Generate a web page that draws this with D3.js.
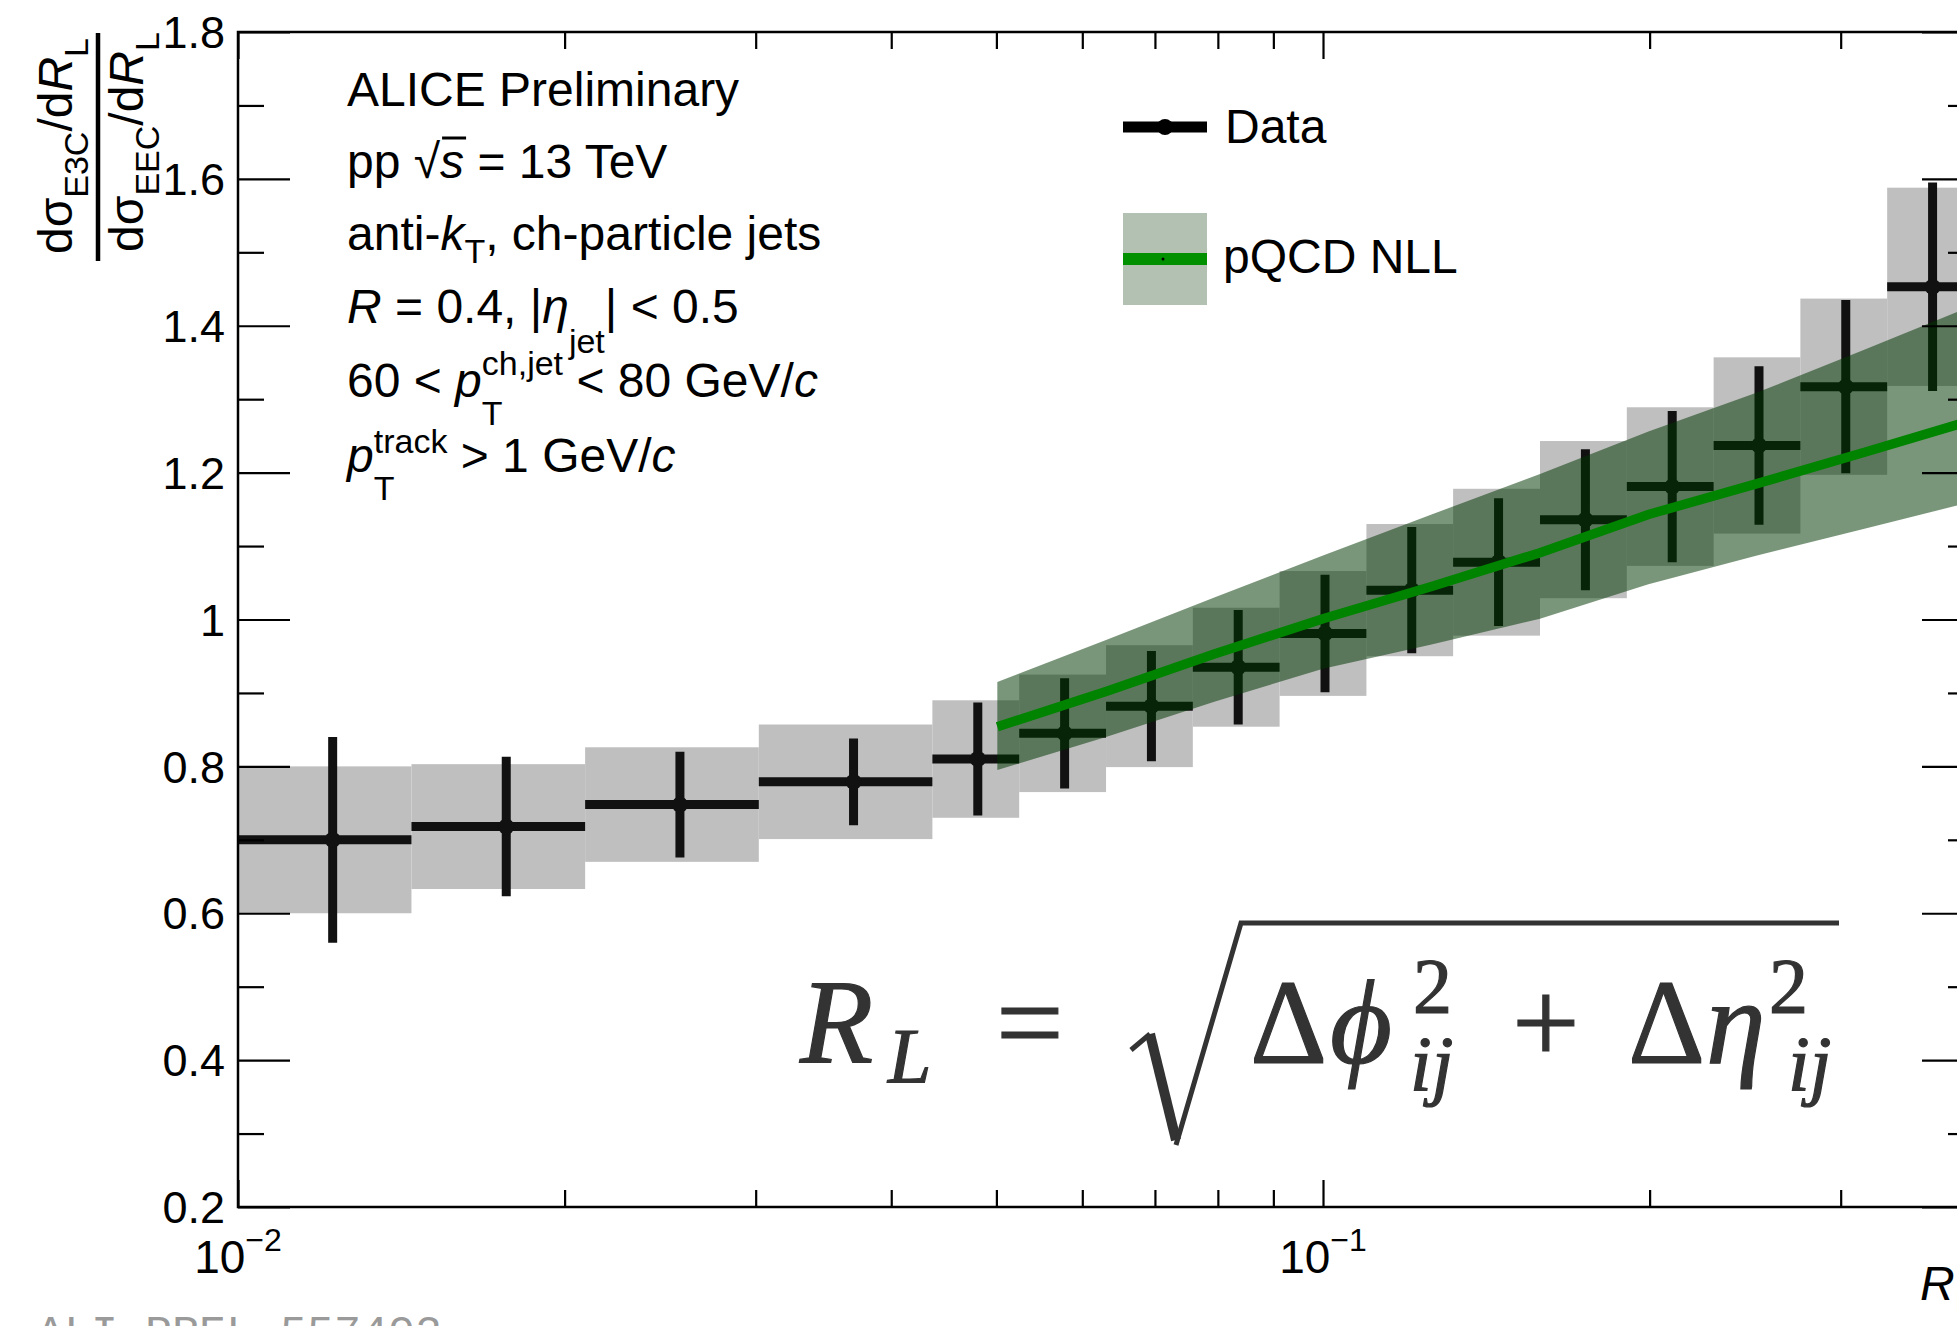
<!DOCTYPE html>
<html>
<head>
<meta charset="utf-8">
<script src="https://cdn.jsdelivr.net/npm/d3@7"></script>
<style>
body { margin: 0; background: #fff; overflow: hidden; }
text { font-family: "Liberation Sans", Arial, sans-serif; white-space: pre; }
</style>
</head>
<body>
<script>
// R_L bin edges (first four bins are double width)
var binEdges = [0.01, 0.01445, 0.02089, 0.0302, 0.04365, 0.05248, 0.0631, 0.07586, 0.0912,
                0.10965, 0.1318, 0.15849, 0.19055, 0.2291, 0.2754, 0.3311, 0.3981];
var ratio   = [0.700, 0.718, 0.748, 0.779, 0.810, 0.845, 0.882, 0.935, 0.981, 1.040, 1.078, 1.136, 1.181, 1.237, 1.317, 1.453];
var statErr = [0.140, 0.095, 0.072, 0.059, 0.077, 0.075, 0.075, 0.078, 0.080, 0.086, 0.087, 0.096, 0.103, 0.108, 0.118, 0.142];
var sysErr  = [0.100, 0.085, 0.078, 0.078, 0.080, 0.080, 0.083, 0.081, 0.085, 0.090, 0.100, 0.107, 0.108, 0.120, 0.120, 0.135];

// pQCD NLL curve and band
var nllX   = [0.0501, 0.0631, 0.0794, 0.1, 0.1259, 0.1585, 0.1995, 0.2512, 0.3162, 0.3981];
var nllMid = [0.854, 0.902, 0.953, 1.001, 1.045, 1.091, 1.143, 1.185, 1.228, 1.272];
var nllUp  = [0.915, 0.972, 1.030, 1.087, 1.143, 1.198, 1.256, 1.309, 1.368, 1.428];
var nllLow = [0.795, 0.840, 0.888, 0.933, 0.966, 1.001, 1.048, 1.087, 1.124, 1.161];

var yMajor = [0.2, 0.4, 0.6, 0.8, 1.0, 1.2, 1.4, 1.6, 1.8];
var yMinor = [0.3, 0.5, 0.7, 0.9, 1.1, 1.3, 1.5, 1.7];
var yLabels = ["0.2", "0.4", "0.6", "0.8", "1", "1.2", "1.4", "1.6", "1.8"];
var xMajor = [0.01, 0.1];
var xMinor = [0.02, 0.03, 0.04, 0.05, 0.06, 0.07, 0.08, 0.09, 0.2, 0.3];
var xExp = ["\u22122", "\u22121"];

var W = 1957, H = 1326;
var L = 238, R = 1974, T = 32, B = 1207;

var svg = d3.select("body").append("svg").attr("width", W).attr("height", H);

var x = d3.scaleLog().domain([0.01, 0.3981]).range([L, R]);
var y = d3.scaleLinear().domain([0.2, 1.8]).range([B, T]);

svg.append("clipPath").attr("id", "plot")
   .append("rect").attr("x", L).attr("y", T).attr("width", R - L).attr("height", B - T);

var plot = svg.append("g").attr("clip-path", "url(#plot)");
var bins = d3.range(ratio.length);
function mid(i) { return (binEdges[i] + binEdges[i + 1]) / 2; }

// systematic boxes
plot.selectAll("rect.sys").data(bins).join("rect")
    .attr("x", function(i) { return x(binEdges[i]); })
    .attr("width", function(i) { return x(binEdges[i + 1]) - x(binEdges[i]); })
    .attr("y", function(i) { return y(ratio[i] + sysErr[i]); })
    .attr("height", function(i) { return y(ratio[i] - sysErr[i]) - y(ratio[i] + sysErr[i]); })
    .attr("fill", "#bfbfbf");

// data crosses
plot.selectAll("line.h").data(bins).join("line")
    .attr("x1", function(i) { return x(binEdges[i]); })
    .attr("x2", function(i) { return x(binEdges[i + 1]); })
    .attr("y1", function(i) { return y(ratio[i]); })
    .attr("y2", function(i) { return y(ratio[i]); })
    .attr("stroke", "#111").attr("stroke-width", 9);
plot.selectAll("line.v").data(bins).join("line")
    .attr("x1", function(i) { return x(mid(i)); })
    .attr("x2", function(i) { return x(mid(i)); })
    .attr("y1", function(i) { return y(ratio[i] + statErr[i]); })
    .attr("y2", function(i) { return y(ratio[i] - statErr[i]); })
    .attr("stroke", "#111").attr("stroke-width", 9);
plot.selectAll("circle").data(bins).join("circle")
    .attr("cx", function(i) { return x(mid(i)); })
    .attr("cy", function(i) { return y(ratio[i]); })
    .attr("r", 8).attr("fill", "#111");

// theory band + line
var tIdx = d3.range(nllX.length);
plot.append("path").datum(tIdx)
    .attr("d", d3.area()
        .x(function(i) { return x(nllX[i]); })
        .y0(function(i) { return y(nllLow[i]); })
        .y1(function(i) { return y(nllUp[i]); }))
    .attr("fill", "rgb(0,54,0)").attr("fill-opacity", 0.52);
plot.append("path").datum(tIdx)
    .attr("d", d3.line()
        .x(function(i) { return x(nllX[i]); })
        .y(function(i) { return y(nllMid[i]); }))
    .attr("fill", "none").attr("stroke", "#008400").attr("stroke-width", 9.5);

// rich text helper: segments laid out one after the other
function rich(parent, x0, y0, segs, center) {
  var g = parent.append("g");
  var cx = 0, prevStart = 0, prevEnd = 0;
  segs.forEach(function(s) {
    var start = s.stack ? prevStart : cx;
    var t = g.append("text").attr("x", start).attr("y", s.dy || 0)
             .attr("font-size", s.fs || 48)
             .attr("font-style", s.it ? "italic" : "normal")
             .attr("fill", "#000").text(s.t);
    var w = t.node().getComputedTextLength();
    if (s.over) {
      g.append("line").attr("x1", start + 2).attr("x2", start + w + 2)
       .attr("y1", (s.dy || 0) - s.over).attr("y2", (s.dy || 0) - s.over)
       .attr("stroke", "#000").attr("stroke-width", 3);
    }
    cx = s.stack ? Math.max(prevEnd, start + w) : start + w;
    prevStart = start; prevEnd = start + w;
  });
  var sx = center ? x0 - cx / 2 : x0;
  g.attr("transform", "translate(" + sx + "," + y0 + ")");
  return g;
}

// info text
var info = svg.append("g");
rich(info, 347, 106, [{t: "ALICE Preliminary"}]);
rich(info, 347, 178, [{t: "pp "}, {t: "\u221A"}, {t: "s", it: true, over: 40}, {t: " = 13 TeV"}]);
rich(info, 347, 250, [{t: "anti-"}, {t: "k", it: true}, {t: "T", fs: 34, dy: 13}, {t: ", ch-particle jets"}]);
rich(info, 347, 323, [{t: "R", it: true}, {t: " = 0.4, |"}, {t: "\u03B7", it: true}, {t: "jet", fs: 34, dy: 30}, {t: "| < 0.5"}]);
rich(info, 347, 397, [{t: "60 < "}, {t: "p", it: true}, {t: "T", fs: 34, dy: 28}, {t: "ch,jet", fs: 34, dy: -22, stack: true}, {t: " < 80 GeV/"}, {t: "c", it: true}]);
rich(info, 347, 472, [{t: "p", it: true}, {t: "T", fs: 34, dy: 28}, {t: "track", fs: 34, dy: -19, stack: true}, {t: " > 1 GeV/"}, {t: "c", it: true}]);

// legend
var leg = svg.append("g");
leg.append("line").attr("x1", 1123).attr("x2", 1207).attr("y1", 127).attr("y2", 127)
   .attr("stroke", "#000").attr("stroke-width", 11);
leg.append("circle").attr("cx", 1165).attr("cy", 127).attr("r", 8).attr("fill", "#000");
rich(leg, 1225, 143, [{t: "Data"}]);
leg.append("rect").attr("x", 1123).attr("y", 213).attr("width", 84).attr("height", 92)
   .attr("fill", "rgb(0,50,0)").attr("fill-opacity", 0.3);
leg.append("line").attr("x1", 1123).attr("x2", 1207).attr("y1", 259).attr("y2", 259)
   .attr("stroke", "#009000").attr("stroke-width", 12);
leg.append("circle").attr("cx", 1163).attr("cy", 259).attr("r", 1.5).attr("fill", "#000");
rich(leg, 1223, 273, [{t: "pQCD NLL"}]);

// formula annotation
var fm = svg.append("g").attr("fill", "#333");
function ftxt(t, px, py, fs, it) {
  fm.append("text").attr("x", px).attr("y", py).attr("font-size", fs)
    .attr("font-style", it ? "italic" : "normal")
    .attr("stroke", "#333").attr("stroke-width", 1.2)
    .style("font-family", "'Liberation Serif', 'Times New Roman', serif").text(t);
}
ftxt("R", 800, 1063, 120, true);
ftxt("L", 888, 1082, 78, true);
ftxt("=", 996, 1063, 120, false);
ftxt("\u0394", 1250, 1063, 120, false);
ftxt("\u03D5", 1330, 1063, 120, true);
ftxt("2", 1413, 1012, 78, false);
ftxt("ij", 1410, 1090, 78, true);
ftxt("+", 1512, 1063, 120, false);
ftxt("\u0394", 1628, 1063, 120, false);
ftxt("\u03B7", 1706, 1063, 120, true);
ftxt("2", 1769, 1012, 78, false);
ftxt("ij", 1788, 1090, 78, true);
fm.append("path").attr("d", "M1131,1050 L1150,1034")
  .attr("stroke", "#333").attr("stroke-width", 5).attr("fill", "none");
fm.append("path").attr("d", "M1150,1034 L1176,1140")
  .attr("stroke", "#333").attr("stroke-width", 10).attr("fill", "none");
fm.append("path").attr("d", "M1176,1145 L1241,923 L1839,923")
  .attr("stroke", "#333").attr("stroke-width", 5).attr("fill", "none");

// frame and ticks
var ax = svg.append("g").attr("stroke", "#000");
ax.append("rect").attr("x", L).attr("y", T).attr("width", R - L).attr("height", B - T)
  .attr("fill", "none").attr("stroke-width", 2.5);

function tickAxis(axisFn, scale, vals, size, tx, ty) {
  var a = axisFn(scale).tickValues(vals).tickSize(size).tickSizeOuter(0).tickFormat("");
  var g = svg.append("g").attr("transform", "translate(" + tx + "," + ty + ")").call(a);
  g.select(".domain").remove();
  g.selectAll("line").attr("stroke", "#000").attr("stroke-width", 2.2);
}
tickAxis(d3.axisLeft, y, yMajor, -52, L, 0);
tickAxis(d3.axisLeft, y, yMinor, -26, L, 0);
tickAxis(d3.axisRight, y, yMajor, -52, R, 0);
tickAxis(d3.axisRight, y, yMinor, -26, R, 0);
tickAxis(d3.axisBottom, x, xMajor, -27, 0, B);
tickAxis(d3.axisBottom, x, xMinor, -17, 0, B);
tickAxis(d3.axisTop, x, xMajor, -27, 0, T);
tickAxis(d3.axisTop, x, xMinor, -17, 0, T);

// tick labels
svg.append("g").selectAll("text").data(yMajor).join("text")
   .attr("x", 225).attr("y", function(d) { return y(d); }).attr("dy", "0.36em")
   .attr("text-anchor", "end").attr("font-size", 45).text(function(d, i) { return yLabels[i]; });
xMajor.forEach(function(v, i) {
  rich(svg, x(v), 1273, [{t: "10", fs: 46}, {t: xExp[i], fs: 32, dy: -22}], true);
});

// axis titles
rich(svg, 1920, 1300, [{t: "R", it: true}, {t: "L", fs: 34, dy: 13}]);

var yt = svg.append("g").attr("transform", "translate(0,0) rotate(-90)");
rich(yt, -146, 72, [{t: "d\u03C3"}, {t: "E3C", fs: 34, dy: 16}, {t: "/d"}, {t: "R", it: true}, {t: "L", fs: 34, dy: 16}], true);
rich(yt, -142, 143, [{t: "d\u03C3"}, {t: "EEC", fs: 34, dy: 16}, {t: "/d"}, {t: "R", it: true}, {t: "L", fs: 34, dy: 16}], true);
yt.append("line").attr("x1", -261).attr("x2", -33).attr("y1", 98).attr("y2", 98)
  .attr("stroke", "#000").attr("stroke-width", 4.5);

// preliminary id
svg.append("text").attr("x", 37).attr("y", 1346).attr("font-size", 45)
   .style("font-family", "'Liberation Mono', 'Courier New', monospace")
   .attr("fill", "#9a9a9a").text("ALI-PREL-557402");
</script>
</body>
</html>
